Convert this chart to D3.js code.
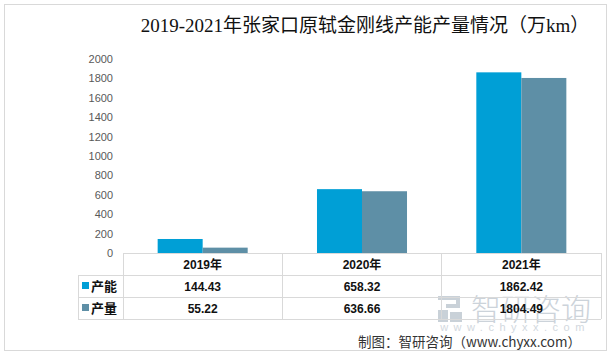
<!DOCTYPE html>
<html><head><meta charset="utf-8">
<script src="https://cdn.jsdelivr.net/npm/d3@7"></script>
<style>body{margin:0;background:#fff}svg{display:block}</style>
</head><body><div id="c"></div>
<script>
const title = "2019-2021年张家口原轼金刚线产能产量情况（万km）";
const categories = ["2019年", "2020年", "2021年"];
const seriesNames = ["产能", "产量"];
const capacity = [144.43, 658.32, 1862.42];
const output = [55.22, 636.66, 1804.49];
const capacityLabels = ["144.43", "658.32", "1862.42"];
const outputLabels = ["55.22", "636.66", "1804.49"];
const yTicks = [0, 200, 400, 600, 800, 1000, 1200, 1400, 1600, 1800, 2000];
const colors = ["#009fd6", "#5e8fa6"];
const source = "制图：智研咨询（www.chyxx.com）";

const W = 610, H = 354;
const svg = d3.select("#c").append("svg").attr("width", W).attr("height", H);
svg.append("rect").attr("x", 4.5).attr("y", 4.5).attr("width", 602).attr("height", 346)
  .attr("fill", "#fff").attr("stroke", "#d9d9d9");

svg.append("text").attr("x", 365).attr("y", 32).attr("text-anchor", "middle")
  .attr("font-family", "'Liberation Serif','Noto Sans CJK SC',serif").attr("font-size", 19)
  .attr("fill", "#111").text(title);

const left = 123, right = 601, base = 253;
const x = d3.scaleBand().domain(categories).range([left, right]).paddingInner(0.435).paddingOuter(0.2175);
const step = x.step();
const xs = d3.scaleBand().domain(seriesNames).range([0, x.bandwidth()]);
const y = d3.scaleLinear().domain([0, 2000]).range([base, 59]);

const yAxis = svg.append("g").attr("transform", `translate(116,0)`)
  .call(d3.axisLeft(y).tickValues(yTicks).tickSize(0).tickPadding(3).tickFormat(d3.format("d")));
yAxis.select(".domain").remove();
yAxis.selectAll("text").attr("font-family", "'Liberation Sans',Arial,sans-serif").attr("font-size", 11).attr("fill", "#595959");

// watermark
const wm = svg.append("g");
wm.append("text").attr("x", 531).attr("y", 320).attr("text-anchor", "middle")
  .attr("font-family", "'Noto Sans CJK SC',sans-serif").attr("font-size", 30).attr("font-weight", 300).attr("fill", "#ccd3da").text("智研咨询");
wm.append("path").attr("d", "M438,296h22v12h-14v-4h10v-4h-18z M438,310h10v12h-10z M450,312h12v10h-12z").attr("fill", "#c9d1d8");
wm.append("text").attr("x", 515).attr("y", 331).attr("text-anchor", "middle")
  .attr("font-family", "'Liberation Sans',sans-serif").attr("font-size", 11).attr("letter-spacing", 5.5).attr("fill", "#d2d8de").text("www.chyxx.com");

const data = [capacity, output];
const labels = [capacityLabels, outputLabels];
data.forEach((vals, si) => {
  svg.append("g").selectAll("rect").data(vals).join("rect")
    .attr("x", (d, i) => x(categories[i]) + xs(seriesNames[si]))
    .attr("width", xs.bandwidth())
    .attr("y", d => y(d))
    .attr("height", d => base - y(d))
    .attr("fill", colors[si]);
});

// table
const rowH = 22;
const grid = svg.append("g").attr("stroke", "#d9d9d9").attr("fill", "none").attr("shape-rendering", "crispEdges");
grid.append("line").attr("x1", left).attr("x2", right).attr("y1", base).attr("y2", base);
grid.append("line").attr("x1", 78).attr("x2", right).attr("y1", base + rowH).attr("y2", base + rowH);
grid.append("line").attr("x1", 78).attr("x2", right).attr("y1", base + 2 * rowH).attr("y2", base + 2 * rowH);
grid.append("line").attr("x1", 78).attr("x2", right).attr("y1", base + 3 * rowH).attr("y2", base + 3 * rowH);
grid.append("line").attr("x1", 78).attr("x2", 78).attr("y1", base + rowH).attr("y2", base + 3 * rowH);
[0, 1, 2, 3].forEach(i => {
  grid.append("line").attr("x1", left + i * step).attr("x2", left + i * step).attr("y1", base).attr("y2", base + 3 * rowH);
});

const tf = "'Liberation Sans','Noto Sans CJK SC',sans-serif";
svg.append("g").selectAll("text").data(categories).join("text")
  .attr("x", d => x(d) + x.bandwidth() / 2).attr("y", base + 15.5).attr("text-anchor", "middle")
  .attr("font-family", tf).attr("font-size", 12).attr("font-weight", "bold").attr("fill", "#111").text(d => d);
labels.forEach((ls, si) => {
  svg.append("g").selectAll("text").data(ls).join("text")
    .attr("x", (d, i) => x(categories[i]) + x.bandwidth() / 2).attr("y", base + rowH * (si + 1) + 15.5)
    .attr("text-anchor", "middle").attr("font-family", tf).attr("font-size", 12).attr("font-weight", "bold")
    .attr("fill", "#111").text(d => d);
  svg.append("rect").attr("x", 82).attr("y", base + rowH * (si + 1) + 7).attr("width", 7).attr("height", 7).attr("fill", colors[si]);
  svg.append("text").attr("x", 91).attr("y", base + rowH * (si + 1) + 16).attr("font-family", "'Noto Sans CJK SC',sans-serif")
    .attr("font-size", 13).attr("font-weight", "bold").attr("fill", "#111").text(seriesNames[si]);
});

svg.append("text").attr("x", 581).attr("y", 347).attr("text-anchor", "end")
  .attr("font-family", "'Noto Sans CJK SC',sans-serif").attr("font-size", 13.5).attr("fill", "#333").text(source);
</script></body></html>
